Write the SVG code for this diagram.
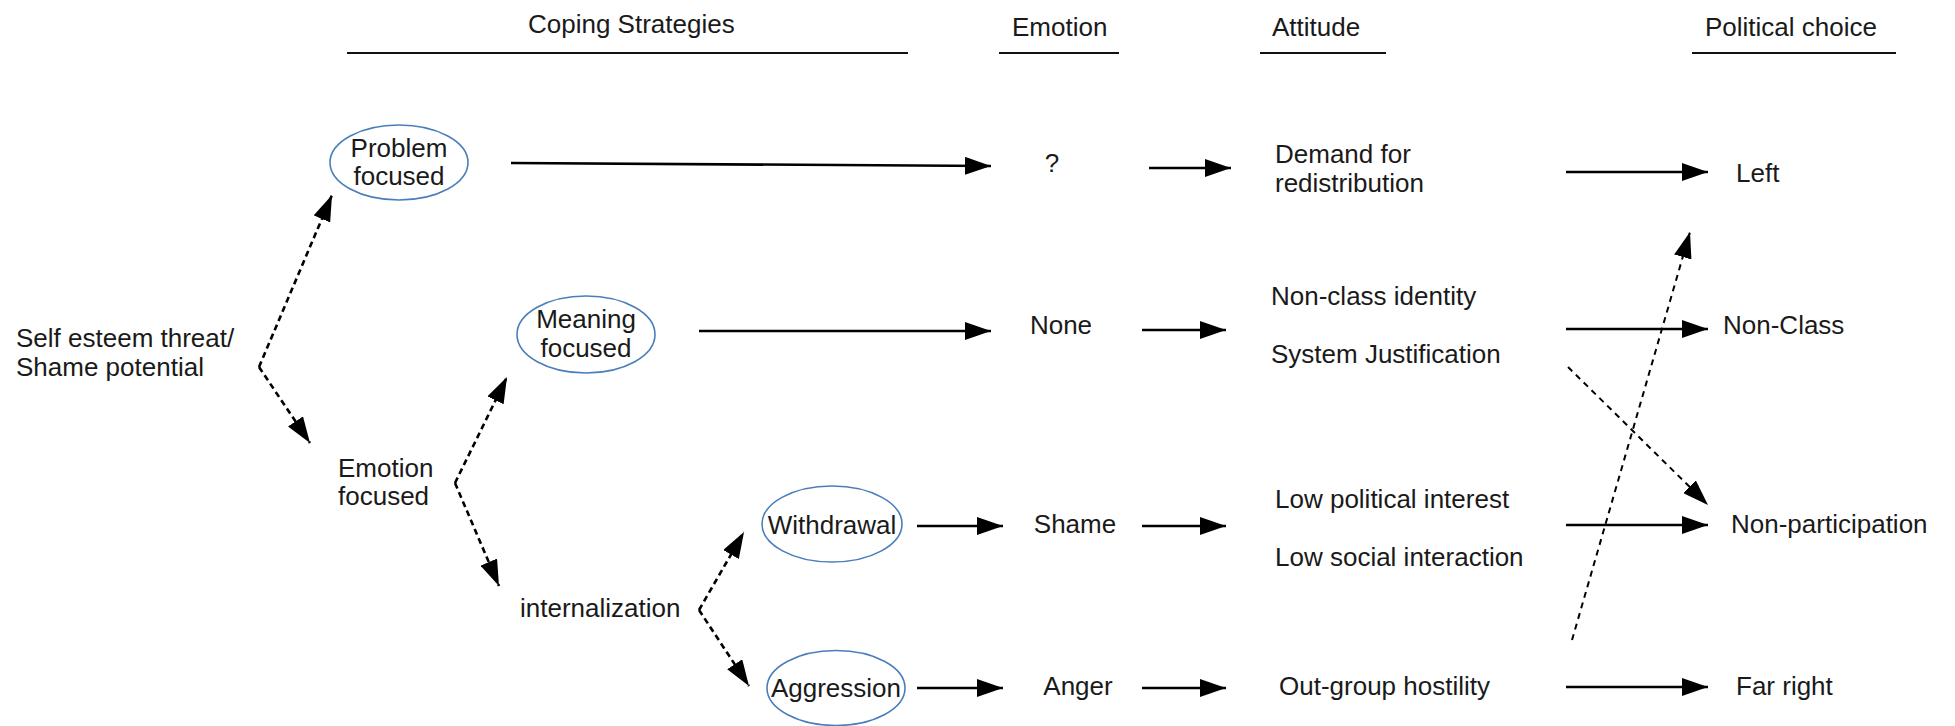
<svg xmlns="http://www.w3.org/2000/svg" width="1955" height="726" viewBox="0 0 1955 726">
<style>
text{font-family:"Liberation Sans",Arial,sans-serif;font-size:26px;fill:#1a1a1a}
.c{text-anchor:middle}
.node ellipse{fill:none;stroke:#4a7ebb;stroke-width:1.6}
.hdr line{stroke:#111;stroke-width:2.2}
.solid{stroke:#000;stroke-width:2.6;fill:none;marker-end:url(#ah)}
.dash{stroke:#000;stroke-width:2.6;fill:none;stroke-dasharray:6 4;marker-end:url(#ah)}
.dash2{stroke:#000;stroke-width:2;fill:none;stroke-dasharray:6 5;marker-end:url(#ah)}
</style>
<defs>
<marker id="ah" markerUnits="userSpaceOnUse" markerWidth="26" markerHeight="18" refX="26" refY="9" orient="auto">
<path d="M0,0 L26,9 L0,18 z" fill="#000"/>
</marker>
</defs>
<rect width="1955" height="726" fill="#fff"/>
<g id="headers" class="hdr">
<text x="528" y="33">Coping Strategies</text>
<line x1="347" y1="53" x2="908" y2="53"/>
<text x="1012" y="36">Emotion</text>
<line x1="999" y1="53" x2="1119" y2="53"/>
<text x="1272" y="36">Attitude</text>
<line x1="1260" y1="53" x2="1386" y2="53"/>
<text x="1705" y="36">Political choice</text>
<line x1="1692" y1="53" x2="1896" y2="53"/>
</g>
<g id="connectors">
<polyline class="dash" points="259,367 332,195"/>
<polyline class="dash" points="259,367 310,443"/>
<polyline class="dash" points="455,483 507,377"/>
<polyline class="dash" points="455,483 499,586"/>
<polyline class="dash" points="699,610 744,532"/>
<polyline class="dash" points="699,610 749,686"/>
<line class="solid" x1="511" y1="163" x2="991" y2="166"/>
<line class="solid" x1="1149" y1="168" x2="1231" y2="168"/>
<line class="solid" x1="1566" y1="172" x2="1708" y2="172"/>
<line class="solid" x1="699" y1="331" x2="991" y2="331"/>
<line class="solid" x1="1142" y1="330" x2="1226" y2="330"/>
<line class="solid" x1="1566" y1="329" x2="1708" y2="329"/>
<line class="solid" x1="917" y1="526" x2="1003" y2="526"/>
<line class="solid" x1="1142" y1="526" x2="1226" y2="526"/>
<line class="solid" x1="1566" y1="525" x2="1708" y2="525"/>
<line class="solid" x1="917" y1="688" x2="1003" y2="688"/>
<line class="solid" x1="1142" y1="688" x2="1226" y2="688"/>
<line class="solid" x1="1566" y1="687" x2="1708" y2="687"/>
<line class="dash2" x1="1568" y1="367" x2="1708" y2="505"/>
<line class="dash2" x1="1572" y1="640" x2="1690" y2="232"/>
</g>
<g id="self-esteem"><text x="16" y="347">Self esteem threat/</text><text x="16" y="376">Shame potential</text></g>
<g id="problem-focused" class="node"><ellipse cx="399" cy="162.5" rx="69" ry="37.5"/><text class="c" x="399" y="157">Problem</text><text class="c" x="399" y="185">focused</text></g>
<g id="meaning-focused" class="node"><ellipse cx="586" cy="334.5" rx="69" ry="38.5"/><text class="c" x="586" y="328">Meaning</text><text class="c" x="586" y="357">focused</text></g>
<g id="emotion-focused"><text x="338" y="477">Emotion</text><text x="338" y="505">focused</text></g>
<g id="internalization"><text x="520" y="617">internalization</text></g>
<g id="withdrawal" class="node"><ellipse cx="832" cy="524" rx="70" ry="38"/><text class="c" x="832" y="534">Withdrawal</text></g>
<g id="aggression" class="node"><ellipse cx="836" cy="688" rx="69" ry="37.5"/><text class="c" x="836" y="697">Aggression</text></g>
<g id="emo-q"><text class="c" x="1052" y="172">?</text></g>
<g id="emo-none"><text class="c" x="1061" y="334">None</text></g>
<g id="emo-shame"><text class="c" x="1075" y="533">Shame</text></g>
<g id="emo-anger"><text class="c" x="1078" y="695">Anger</text></g>
<g id="att-demand"><text x="1275" y="163">Demand for</text><text x="1275" y="192">redistribution</text></g>
<g id="att-nonclass"><text x="1271" y="305">Non-class identity</text><text x="1271" y="363">System Justification</text></g>
<g id="att-low"><text x="1275" y="508">Low political interest</text><text x="1275" y="566">Low social interaction</text></g>
<g id="att-hostility"><text x="1279" y="695">Out-group hostility</text></g>
<g id="pc-left"><text x="1736" y="182">Left</text></g>
<g id="pc-nonclass"><text x="1723" y="334">Non-Class</text></g>
<g id="pc-nonpart"><text x="1731" y="533">Non-participation</text></g>
<g id="pc-farright"><text x="1736" y="695">Far right</text></g>
</svg>
